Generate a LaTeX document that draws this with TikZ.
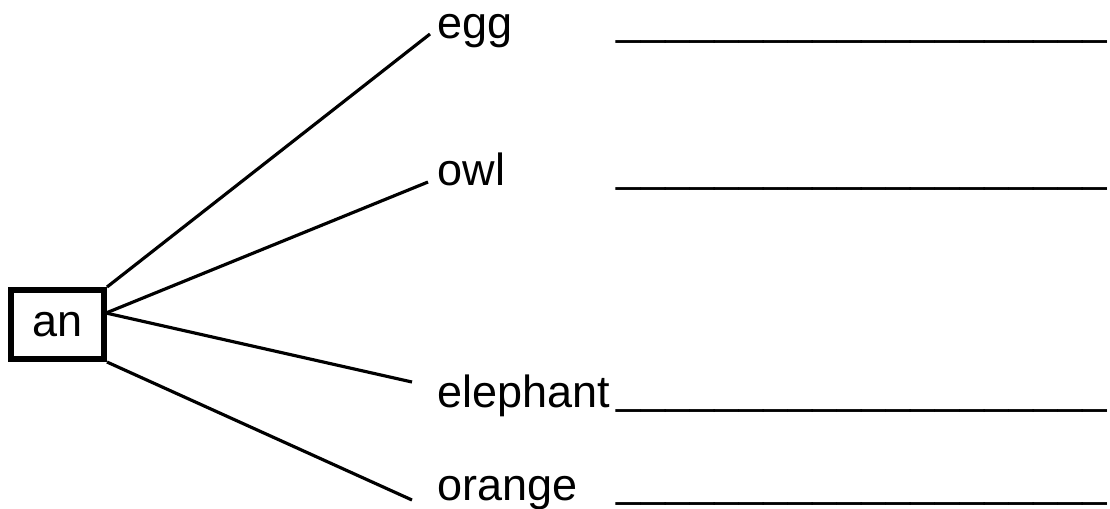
\documentclass[tikz,border=0pt]{standalone}
\usepackage{fontspec}
\setmainfont{Liberation Sans}
\newcommand{\blanks}{\_\_\_\_\_\_\_\_\_\_\_\_\_\_\_\_\_\_\_\_}
\begin{document}
\begin{tikzpicture}[x=0.01cm, y=-0.01cm,
            every node/.style = {inner sep=0pt, font=\fontsize{12.8}{15}\selectfont},
            word/.style = {anchor=base west},
            blank/.style = {anchor=base east, xscale=0.98},
            branch/.style = {line width=0.9pt}]
\useasboundingbox (0,0) rectangle (1110,508);
\node[draw, line width=1.7pt, minimum width=0.93cm, minimum height=0.69cm] (an) at (57.5,324.5) {an};
\coordinate (mid) at (106,313);

\node[word] (egg) at (437,38) {egg};
\node[blank] (egg line) at (1108,34) {\blanks};
\node[word] (owl) at (437,185) {owl};
\node[blank] (owl line) at (1108,181) {\blanks};
\node[word] (elephant) at (437,407) {elephant};
\node[blank] (elephant line) at (1108,403) {\blanks};
\node[word] (orange) at (437,500) {orange};
\node[blank] (orange line) at (1108,496) {\blanks};

\coordinate (egg end) at (430,34);
\coordinate (owl end) at (428,182);
\coordinate (elephant end) at (412,382);
\coordinate (orange end) at (412,500);

\draw[branch] (an.north east) -- (egg end);
\draw[branch] (mid) -- (owl end);
\draw[branch] (mid) -- (elephant end);
\draw[branch] (an.south east) -- (orange end);

\end{tikzpicture}
\end{document}
